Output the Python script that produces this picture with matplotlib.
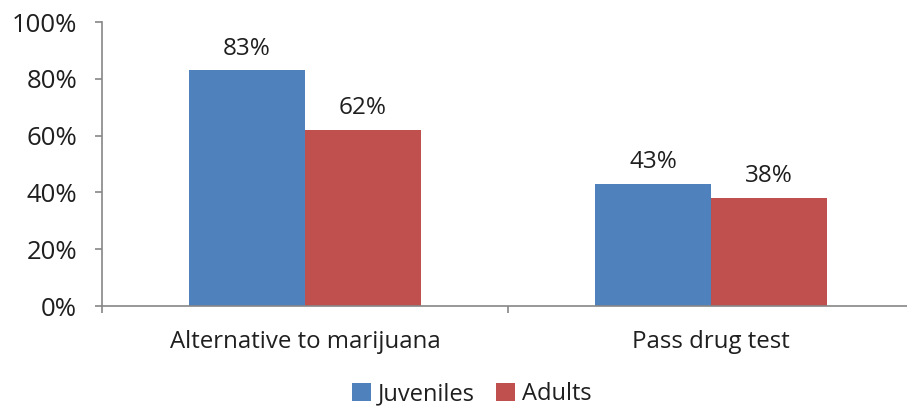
import matplotlib.pyplot as plt
import numpy as np

categories = ["Alternative to marijuana", "Pass drug test"]
juveniles = [83, 43]
adults = [62, 38]
series_names = ["Juveniles", "Adults"]
yticks = [0, 20, 40, 60, 80, 100]

plt.rcParams['font.family'] = ['Open Sans', 'DejaVu Sans']
text_color = '#1f1f1f'
axis_color = '#868686'

W, H = 907, 408
fig = plt.figure(figsize=(W / 100, H / 100), dpi=100)
ax = fig.add_axes([102 / W, (H - 306) / H, 812 / W, 284 / H])

x = np.arange(len(categories))
width = 116 / 406
b1 = ax.bar(x - width / 2, juveniles, width, color='#4F81BD', label=series_names[0])
b2 = ax.bar(x + width / 2, adults, width, color='#C0504D', label=series_names[1])

for bars in (b1, b2):
    for rect in bars:
        ax.annotate(f"{rect.get_height():.0f}%",
                    (rect.get_x() + rect.get_width() / 2, rect.get_height()),
                    xytext=(0, 7), textcoords='offset points',
                    ha='center', va='bottom', fontsize=17.5, color=text_color)

ax.set_xlim(-0.5, len(categories) - 0.5)
ax.set_ylim(0, 100)
ax.set_yticks(yticks)
ax.set_yticklabels([f"{v}%" for v in yticks])
ax.set_xticks(x)
ax.set_xticklabels(categories)
ax.set_xticks(np.arange(len(categories) + 1) - 0.5, minor=True)

for side in ('top', 'right'):
    ax.spines[side].set_visible(False)
for side in ('left', 'bottom'):
    ax.spines[side].set_color(axis_color)
    ax.spines[side].set_linewidth(1.2)

ax.tick_params(axis='y', length=5, width=1.2, color=axis_color, labelsize=18.5,
               labelcolor=text_color, pad=13)
ax.tick_params(axis='x', which='major', length=0, labelsize=17.3,
               labelcolor=text_color, pad=17)
ax.tick_params(axis='x', which='minor', length=5, width=1.2, color=axis_color)

fig.legend(handles=[b1, b2], labels=series_names, loc='center',
           bbox_to_anchor=(472 / W, 1 - 394 / H), ncol=2, frameon=False,
           fontsize=17, handlelength=0.8, handleheight=0.8, handletextpad=0.3,
           columnspacing=0.9, labelcolor=text_color)

fig.savefig("out.png", dpi=100)
